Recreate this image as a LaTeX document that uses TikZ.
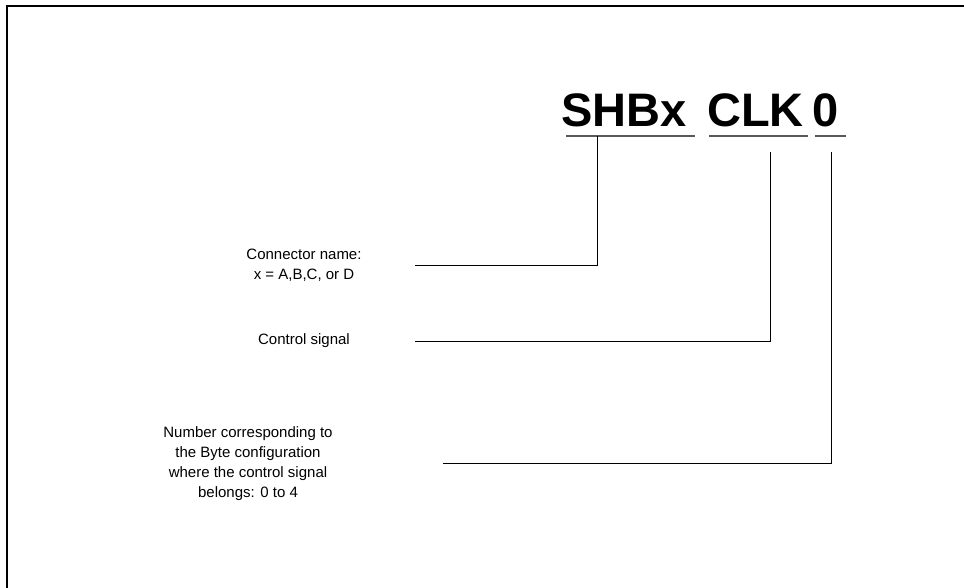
\documentclass[tikz,border=0pt]{standalone}
\usepackage{fontspec}
\setmainfont{Liberation Sans}
\begin{document}
\begin{tikzpicture}[x=1pt,y=-1pt,
  title/.style={font=\fontsize{47}{50}\selectfont\bfseries, inner sep=0pt, anchor=base west},
  lbl/.style={font=\fontsize{15}{20}\selectfont, align=center, inner sep=0pt},
  uline/.style={draw=black!65, line width=1.4pt},
  conn/.style={draw=black, line width=0.9pt}]
\useasboundingbox (0,0) rectangle (964,588);
\fill[white] (0,0) rectangle (964,588);
\draw[line width=2pt] (7,600) -- (7,6) -- (980,6);
% title
\node[title] (sh) at (561,127) {SHBx};
\node[title] (clk) at (707,127) {CLK};
\node[title] (zero) at (812,127) {0};
% underlines
\coordinate (u1a) at (566,136); \coordinate (u1b) at (695,136);
\coordinate (u2a) at (709,136); \coordinate (u2b) at (808,136);
\coordinate (u3a) at (815,136); \coordinate (u3b) at (846,136);
\draw[uline] (u1a) -- (u1b);
\draw[uline] (u2a) -- (u2b);
\draw[uline] (u3a) -- (u3b);
% labels
\node[lbl] (l1) at (304,265) {Connector name:\\x = A,B,C, or D};
\node[lbl] (l2) at (304,341) {Control signal};
\node[lbl] (l3) at (248,464) {Number corresponding to\\the Byte configuration\\where the control signal\\belongs: 0 to 4};
% connector points
\coordinate (s1) at (597,136); \coordinate (c1) at (597,265); \coordinate (e1) at (415,265);
\coordinate (s2) at (770,152); \coordinate (c2) at (770,341); \coordinate (e2) at (415,341);
\coordinate (s3) at (831,152); \coordinate (c3) at (831,463); \coordinate (e3) at (443,463);
\draw[conn] (s1) -- (c1) -- (e1);
\draw[conn] (s2) -- (c2) -- (e2);
\draw[conn] (s3) -- (c3) -- (e3);
\end{tikzpicture}
\end{document}
